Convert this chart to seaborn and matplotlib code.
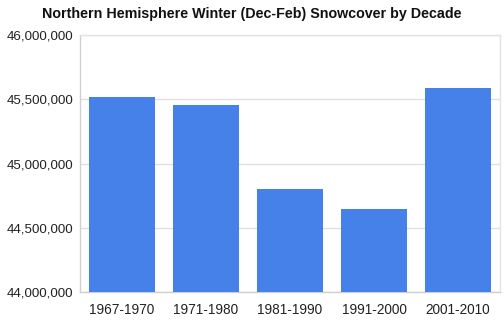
import matplotlib
matplotlib.use("Agg")
import matplotlib.pyplot as plt
import seaborn as sns
import pandas as pd
from matplotlib.ticker import FuncFormatter

decades = ["1967-1970", "1971-1980", "1981-1990", "1991-2000", "2001-2010"]
snowcover = [45515000, 45455000, 44805000, 44645000, 45585000]

df = pd.DataFrame({"decade": decades, "snowcover": snowcover})

sns.set_theme(style="white")
plt.rcParams["font.family"] = ["Liberation Sans", "DejaVu Sans"]

fig = plt.figure(figsize=(5.04, 3.26), dpi=100)
ax = fig.add_axes([80 / 504, 34 / 326, 420 / 504, 257 / 326])

sns.barplot(data=df, x="decade", y="snowcover", color="#4581e9", saturation=1,
            width=0.79, linewidth=0, ax=ax, zorder=3)

ax.set_ylim(44000000, 46000000)
ax.set_yticks([44000000, 44500000, 45000000, 45500000, 46000000])
ax.yaxis.set_major_formatter(FuncFormatter(lambda v, p: f"{int(v):,}"))
ax.grid(axis="y", color="#e0e0e0", linewidth=1, zorder=0)
ax.set_axisbelow(True)
ax.set_xlabel("")
ax.set_ylabel("")
for s in ["top", "right"]:
    ax.spines[s].set_color("#e4e4e4")
    ax.spines[s].set_linewidth(1)
for s in ["left", "bottom"]:
    ax.spines[s].set_color("#d0d0d0")
    ax.spines[s].set_linewidth(1)
ax.tick_params(axis="y", length=0, labelsize=9.6, colors="#222222", pad=5)
ax.tick_params(axis="x", length=0, labelsize=9.8, colors="#222222", pad=8)

fig.suptitle("Northern Hemisphere Winter (Dec-Feb) Snowcover by Decade",
             x=0.5, y=0.98, fontsize=10.3, fontweight="bold", color="#111111")

fig.savefig("out.png", dpi=100)
